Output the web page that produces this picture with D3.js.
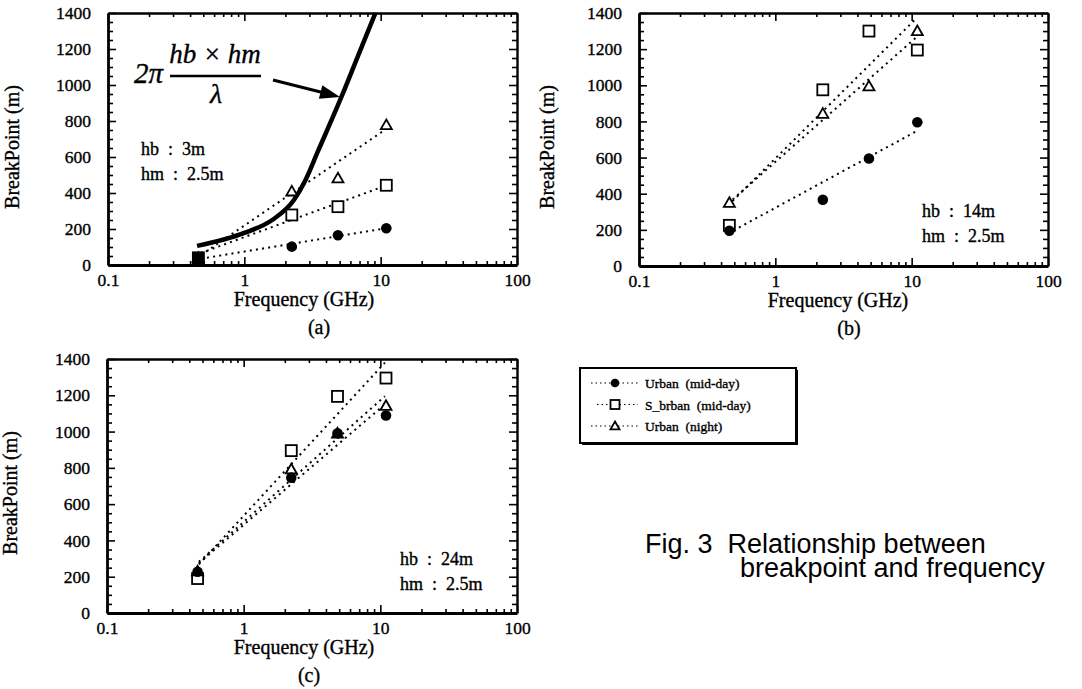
<!DOCTYPE html>
<html>
<head>
<meta charset="utf-8">
<script src="https://cdn.jsdelivr.net/npm/d3@7"></script>
<style>
  body { margin: 0; background: #fff; }
  text { font-family: "Liberation Serif", "Times New Roman", serif; fill: #000; white-space: pre; }
  .scan { stroke: #000; stroke-width: 0.35px; }
</style>
</head>
<body>
<script>
// measurement frequencies (GHz), shared by the three panels
var freqs = [0.46, 2.23, 4.86, 11.0];

// panel (a) hb 3m
var aUrbanDay      = [40, 102, 165, 204];
var aSuburbanDay   = [40, 278, 324, 443];
var aUrbanNight    = [40, 409, 482, 778];
// panel (b) hb 14m
var bUrbanDay      = [195, 367, 595, 795];
var bSuburbanDay   = [225, 975, 1300, 1195];
var bUrbanNight    = [350, 843, 995, 1300];
// panel (c) hb 24m
var cUrbanDay      = [227, 746, 991, 1089];
var cSuburbanDay   = [190, 895, 1194, 1295];
var cUrbanNight    = [230, 792, 990, 1142];

// dotted fit lines: value at first / last frequency of the fit range
var aFitFreq = [0.48, 11.2];
var aFitUrbanDay = [35, 205], aFitSuburbanDay = [67, 444], aFitUrbanNight = [55, 760];
var bFitFreq = [0.45, 10.8];
var bFitUrbanDay = [180, 745], bFitSuburbanDay = [335, 1370], bFitUrbanNight = [345, 1265];
var cFitFreq = [0.47, 10.8];
var cFitUrbanDay = [275, 1150], cFitSuburbanDay = [268, 1380], cFitUrbanNight = [282, 1195];

// 2*pi*hb*hm/lambda curve of panel (a)
var theoryFreq  = [0.45, 1.0, 1.6, 2.31, 2.8, 3.45, 5.19, 7.0, 9.15];
var theoryBreak = [106, 178, 250, 361, 470, 628, 939, 1183, 1400];

var xTicks = [0.1, 1, 10, 100];
var yTicks = [0, 200, 400, 600, 800, 1000, 1200, 1400];
var legendLabels = ["Urban  (mid-day)", "S_brban  (mid-day)", "Urban  (night)"];
var seriesShapes = ["circle", "square", "triangle"];

var svg = d3.select("body").append("svg")
    .attr("width", 1082)
    .attr("height", 689);

var dotted = "2,4.2";

function drawMarker(sel, shape, size) {
  if (shape == "circle") {
    sel.append("circle").attr("r", size * 0.48).attr("fill", "#000");
  } else if (shape == "square") {
    sel.append("rect").attr("x", -size / 2).attr("y", -size / 2)
        .attr("width", size).attr("height", size)
        .attr("fill", "#fff").attr("stroke", "#000").attr("stroke-width", 1.8);
  } else {
    var s = size / 2;
    sel.append("path").attr("d", "M0," + (-s) + "L" + s + "," + (s * 0.75) + "L" + (-s) + "," + (s * 0.75) + "Z")
        .attr("fill", "#fff").attr("stroke", "#000").attr("stroke-width", 1.8);
  }
}

function drawPanel(p) {
  var w = p.width, h = p.height;
  var g = svg.append("g").attr("transform", "translate(" + p.left + "," + p.top + ")");

  var x = d3.scaleLog().domain([0.1, 100]).range([0, w]);
  var y = d3.scaleLinear().domain([0, 1400]).range([h, 0]);

  var xMinor = [];
  [0.1, 1, 10].forEach(function(d) { for (var k = 2; k < 10; k++) xMinor.push(d * k); });
  var yMinor = d3.range(0, 1401, 50).filter(function(v) { return v % 200 != 0; });

  // major axes (bottom/left labelled, top/right just ticks), all ticks inward
  var bottom = g.append("g").attr("transform", "translate(0," + h + ")")
      .call(d3.axisBottom(x).tickValues(xTicks).tickFormat(function(d) { return String(d); })
          .tickSizeInner(-8).tickSizeOuter(0).tickPadding(9));
  var left = g.append("g")
      .call(d3.axisLeft(y).tickValues(yTicks).tickFormat(function(d) { return String(d); })
          .tickSizeInner(-8).tickSizeOuter(0).tickPadding(17));
  g.append("g")
      .call(d3.axisTop(x).tickValues(xTicks).tickFormat("").tickSizeInner(-8).tickSizeOuter(0));
  g.append("g").attr("transform", "translate(" + w + ",0)")
      .call(d3.axisRight(y).tickValues(yTicks).tickFormat("").tickSizeInner(-8).tickSizeOuter(0));

  // minor ticks
  g.append("g").attr("transform", "translate(0," + h + ")").attr("class", "minor")
      .call(d3.axisBottom(x).tickValues(xMinor).tickFormat("").tickSizeInner(-4).tickSizeOuter(0));
  g.append("g").attr("class", "minor")
      .call(d3.axisTop(x).tickValues(xMinor).tickFormat("").tickSizeInner(-4).tickSizeOuter(0));
  g.append("g").attr("class", "minor")
      .call(d3.axisLeft(y).tickValues(yMinor).tickFormat("").tickSizeInner(-5).tickSizeOuter(0));
  g.append("g").attr("transform", "translate(" + w + ",0)").attr("class", "minor")
      .call(d3.axisRight(y).tickValues(yMinor).tickFormat("").tickSizeInner(-5).tickSizeOuter(0));
  g.selectAll(".minor .domain").remove();

  g.selectAll(".domain").attr("stroke", "#000").attr("stroke-width", 2.4);
  bottom.select(".domain").attr("stroke-width", 2.8);
  left.select(".domain").attr("stroke-width", 2.8);
  g.selectAll(".tick line").attr("stroke", "#000").attr("stroke-width", 1.6);
  g.selectAll(".tick text")
      .attr("class", "scan")
      .style("font-family", "'Liberation Serif', serif")
      .style("font-size", "17.5px").attr("fill", "#000");

  // axis titles and panel tag
  g.append("text").attr("class", "scan")
      .attr("transform", "translate(" + p.yTitleX + "," + p.yTitleY + ") rotate(-90)")
      .attr("text-anchor", "middle").style("font-size", "20px")
      .text("BreakPoint (m)");
  g.append("text").attr("class", "scan")
      .attr("x", p.xTitleX).attr("y", h + 41)
      .attr("text-anchor", "middle").style("font-size", "20px")
      .text("Frequency (GHz)");
  g.append("text").attr("class", "scan")
      .attr("x", p.tagX).attr("y", h + 69)
      .attr("text-anchor", "middle").style("font-size", "20px")
      .text(p.tag);

  // antenna heights note
  g.append("text").attr("class", "scan").attr("x", p.noteX).attr("y", p.noteY)
      .style("font-size", "18px").text(p.note[0]);
  g.append("text").attr("class", "scan").attr("x", p.noteX).attr("y", p.noteY + 25)
      .style("font-size", "18px").text(p.note[1]);

  // dotted fit lines
  var fitLine = d3.line().x(function(d) { return x(d[0]); }).y(function(d) { return y(d[1]); });
  p.fits.forEach(function(f) {
    g.append("path")
        .attr("d", fitLine([[p.fitFreq[0], f[0]], [p.fitFreq[1], f[1]]]))
        .attr("fill", "none").attr("stroke", "#000")
        .attr("stroke-width", 2).attr("stroke-dasharray", dotted);
  });

  if (p.extra) p.extra(g, x, y);

  // markers: squares, triangles, then circles on top
  [1, 2, 0].forEach(function(si) {
    var vals = p.series[si];
    vals.forEach(function(v, i) {
      var m = g.append("g").attr("transform", "translate(" + x(freqs[i]) + "," + y(v) + ")");
      drawMarker(m, seriesShapes[si], 11);
    });
  });

  if (p.blob) {
    p.blob.forEach(function(d) {
      g.append("rect")
          .attr("x", x(d[0]) - 6).attr("y", y(d[1]) - 6)
          .attr("width", 12).attr("height", 12).attr("fill", "#000");
    });
  }
}

// panel (a) extras: the 2*pi*hb*hm/lambda curve, formula and arrow
function theoryExtras(g, x, y) {
  var pts = theoryFreq.map(function(f, i) { return [f, theoryBreak[i]]; });
  g.append("path")
      .attr("d", d3.line().curve(d3.curveMonotoneX)
          .x(function(d) { return x(d[0]); }).y(function(d) { return y(d[1]); })(pts))
      .attr("fill", "none").attr("stroke", "#000").attr("stroke-width", 4.5);

  // formula (offsets relative to the plot area)
  g.append("text").attr("class", "scan").attr("x", 26).attr("y", 70)
      .style("font-size", "29px").style("font-style", "italic").text("2\u03c0");
  g.append("text").attr("class", "scan").attr("x", 107).attr("y", 50).attr("text-anchor", "middle")
      .style("font-size", "27px").style("font-style", "italic").text("hb \u00d7 hm");
  g.append("line").attr("x1", 62).attr("x2", 153).attr("y1", 63).attr("y2", 63)
      .attr("stroke", "#000").attr("stroke-width", 2.5);
  g.append("text").attr("class", "scan").attr("x", 108).attr("y", 90).attr("text-anchor", "middle")
      .style("font-size", "28px").style("font-style", "italic").text("\u03bb");

  var x0 = 165, y0 = 67, x1 = 232, y1 = 84;
  var dx = x1 - x0, dy = y1 - y0, len = Math.sqrt(dx * dx + dy * dy);
  var ux = dx / len, uy = dy / len;
  var bx = x1 - ux * 20, by = y1 - uy * 20;
  g.append("line").attr("x1", x0).attr("y1", y0).attr("x2", bx + ux * 2).attr("y2", by + uy * 2)
      .attr("stroke", "#000").attr("stroke-width", 3);
  g.append("path")
      .attr("d", "M" + x1 + "," + y1 + "L" + (bx - uy * 7) + "," + (by + ux * 7) +
          "L" + (bx + uy * 7) + "," + (by - ux * 7) + "Z")
      .attr("fill", "#000");
}

drawPanel({
  left: 108, top: 13, width: 409, height: 252,
  series: [aUrbanDay, aSuburbanDay, aUrbanNight],
  fitFreq: aFitFreq, fits: [aFitUrbanDay, aFitSuburbanDay, aFitUrbanNight],
  note: ["hb  :  3m", "hm  :  2.5m"], noteX: 33, noteY: 142,
  yTitleX: -89, yTitleY: 134, xTitleX: 196, tagX: 211, tag: "(a)",
  extra: theoryExtras,
  blob: [[freqs[0], 35]]
});

drawPanel({
  left: 639, top: 13, width: 409, height: 253,
  series: [bUrbanDay, bSuburbanDay, bUrbanNight],
  fitFreq: bFitFreq, fits: [bFitUrbanDay, bFitSuburbanDay, bFitUrbanNight],
  note: ["hb  :  14m", "hm  :  2.5m"], noteX: 283, noteY: 204,
  yTitleX: -85, yTitleY: 134, xTitleX: 199, tagX: 210, tag: "(b)"
});

drawPanel({
  left: 107, top: 359, width: 410, height: 254,
  series: [cUrbanDay, cSuburbanDay, cUrbanNight],
  fitFreq: cFitFreq, fits: [cFitUrbanDay, cFitSuburbanDay, cFitUrbanNight],
  note: ["hb  :  24m", "hm  :  2.5m"], noteX: 293, noteY: 206,
  yTitleX: -90, yTitleY: 134, xTitleX: 197, tagX: 202, tag: "(c)"
});

// legend
var legend = svg.append("g").attr("transform", "translate(580,368)");
legend.append("rect").attr("x", 2).attr("y", 2).attr("width", 216).attr("height", 75)
    .attr("fill", "#000");
legend.append("rect").attr("width", 216).attr("height", 75)
    .attr("fill", "#fff").attr("stroke", "#000").attr("stroke-width", 2);
legendLabels.forEach(function(label, i) {
  var row = legend.append("g").attr("transform", "translate(0," + (15 + i * 21.5) + ")");
  row.append("line").attr("x1", i == 1 ? 17 : 11).attr("x2", 58).attr("y1", 0).attr("y2", 0)
      .attr("stroke", "#000").attr("stroke-width", 1.2).attr("stroke-dasharray", "1.5,3");
  var m = row.append("g").attr("transform", "translate(35,0)");
  drawMarker(m, seriesShapes[i], 9);
  row.append("text").attr("class", "scan").attr("x", 65).attr("y", 5)
      .style("font-size", "13.5px").text(label);
});

// caption
svg.append("text").attr("x", 645).attr("y", 553)
    .style("font-family", "'Liberation Sans', Arial, sans-serif").style("font-size", "27px")
    .text("Fig. 3  Relationship between");
svg.append("text").attr("x", 740).attr("y", 577)
    .style("font-family", "'Liberation Sans', Arial, sans-serif").style("font-size", "27px")
    .text("breakpoint and frequency");
</script>
</body>
</html>
